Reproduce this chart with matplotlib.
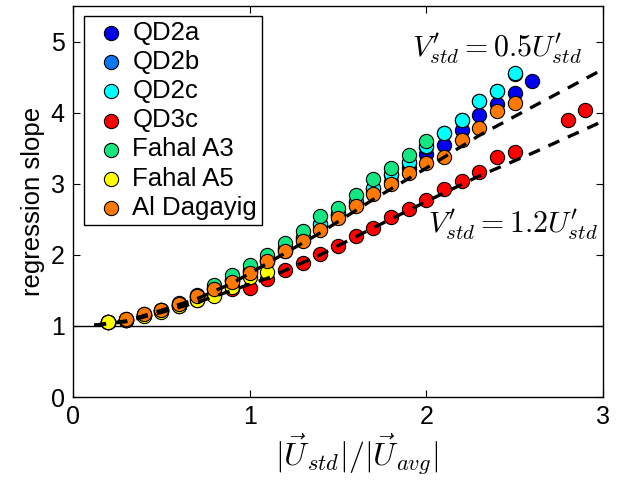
import matplotlib.pyplot as plt

plt.rcParams['font.family'] = ['Liberation Sans', 'DejaVu Sans']
plt.rcParams['mathtext.fontset'] = 'cm'

# regression slope vs |U_std|/|U_avg| for each site
x_qd2a = [0.2, 0.3, 0.4, 0.5, 0.6, 0.7, 0.8, 0.9, 1.0, 1.1, 1.2, 1.3, 1.4,
          1.5, 1.6, 1.7, 1.8, 1.9, 2.0, 2.1, 2.2, 2.3, 2.4, 2.5, 2.6]
qd2a = [1.05, 1.09, 1.16, 1.22, 1.30, 1.41, 1.52, 1.63, 1.76, 1.91, 2.06, 2.21, 2.38,
        2.54, 2.70, 2.88, 3.03, 3.22, 3.42, 3.55, 3.75, 3.96, 4.12, 4.28, 4.45]

x_qd2b = [0.2, 0.3, 0.4, 0.5, 0.6, 0.7, 0.8, 0.9, 1.0, 1.1, 1.2, 1.3, 1.4,
          1.5, 1.6, 1.7, 1.8, 1.9, 2.0, 2.1, 2.2, 2.3, 2.4, 2.5]
qd2b = [1.05, 1.09, 1.15, 1.21, 1.29, 1.41, 1.52, 1.64, 1.77, 1.92, 2.08, 2.24, 2.43,
        2.57, 2.74, 2.93, 3.12, 3.29, 3.52, 3.71, 3.89, 4.16, 4.30, 4.55]

x_qd2c = [0.2, 0.3, 0.4, 0.5, 0.6, 0.7, 0.8, 0.9, 1.0, 1.1, 1.2, 1.3, 1.4,
          1.5, 1.6, 1.7, 1.8, 1.9, 2.0, 2.1, 2.2, 2.3, 2.4, 2.5]
qd2c = [1.05, 1.09, 1.16, 1.22, 1.30, 1.42, 1.53, 1.65, 1.78, 1.93, 2.09, 2.25, 2.44,
        2.58, 2.75, 2.94, 3.13, 3.30, 3.53, 3.72, 3.90, 4.17, 4.31, 4.56]

x_qd3c = [0.2, 0.3, 0.4, 0.5, 0.6, 0.7, 0.8, 0.9, 1.0, 1.1, 1.2, 1.3, 1.4,
          1.5, 1.6, 1.7, 1.8, 1.9, 2.0, 2.1, 2.2, 2.3, 2.4, 2.5, 2.8, 2.9]
qd3c = [1.05, 1.09, 1.15, 1.21, 1.28, 1.37, 1.44, 1.52, 1.54, 1.66, 1.79, 1.89, 2.01,
        2.13, 2.27, 2.38, 2.53, 2.65, 2.77, 2.93, 3.04, 3.17, 3.37, 3.45, 3.90, 4.04]

x_fa3 = [0.2, 0.3, 0.4, 0.5, 0.6, 0.7, 0.8, 0.9, 1.0, 1.1, 1.2, 1.3, 1.4,
         1.5, 1.6, 1.7, 1.8, 1.9, 2.0]
fahal_a3 = [1.06, 1.10, 1.17, 1.23, 1.32, 1.44, 1.58, 1.72, 1.86, 2.00, 2.17, 2.33, 2.54,
            2.66, 2.84, 3.06, 3.22, 3.40, 3.60]

x_fa5 = [0.2, 0.3, 0.4, 0.5, 0.6, 0.7, 0.8, 0.9, 1.0, 1.1]
fahal_a5 = [1.06, 1.08, 1.14, 1.19, 1.28, 1.37, 1.42, 1.55, 1.69, 1.76]

x_ald = [0.3, 0.4, 0.5, 0.6, 0.7, 0.8, 0.9, 1.0, 1.1, 1.2, 1.3, 1.4,
         1.5, 1.6, 1.7, 1.8, 1.9, 2.0, 2.1, 2.2, 2.3, 2.4, 2.5]
al_dagayig = [1.10, 1.17, 1.23, 1.31, 1.42, 1.52, 1.62, 1.75, 1.91, 2.05, 2.19, 2.35,
              2.52, 2.68, 2.85, 2.99, 3.15, 3.29, 3.38, 3.61, 3.78, 4.02, 4.14]

# model curves (dashed)
x_model = [0.12, 0.3, 0.5, 0.7, 0.9, 1.1, 1.4, 1.7, 2.0, 2.3, 2.6, 3.0]
model_05 = [1.01, 1.07, 1.22, 1.38, 1.60, 1.88, 2.31, 2.78, 3.22, 3.68, 4.08, 4.61]
model_12 = [1.01, 1.06, 1.19, 1.33, 1.50, 1.67, 2.00, 2.38, 2.75, 3.11, 3.43, 3.88]

series = [
    ("QD2a", x_qd2a, qd2a, "#0000f0"),
    ("QD2b", x_qd2b, qd2b, "#0a78f0"),
    ("QD2c", x_qd2c, qd2c, "#00ffff"),
    ("QD3c", x_qd3c, qd3c, "#ff0000"),
    ("Fahal A3", x_fa3, fahal_a3, "#14e682"),
    ("Fahal A5", x_fa5, fahal_a5, "#ffff00"),
    ("Al Dagayig", x_ald, al_dagayig, "#ff7800"),
]

fig = plt.figure(figsize=(6.23, 4.8), dpi=100)
ax = fig.add_axes([0.1172, 0.1729, 0.8507, 0.8146])

ax.axhline(1, color='black', lw=1.0, zorder=1)
for name, xs, ys, col in series:
    ax.scatter(xs, ys, s=105, c=col, edgecolors='black', linewidths=0.8,
               label=name, zorder=3)

for ym in (model_05, model_12):
    ln, = ax.plot(x_model, ym, color='black', lw=2.4, zorder=4)
    ln.set_dashes((3.6, 2.8))

ax.text(2.88, 4.79, r"$V^{\prime}_{std} = 0.5U^{\prime}_{std}$", fontsize=21.5,
        ha='right', va='baseline')
ax.text(2.97, 2.31, r"$V^{\prime}_{std} = 1.2U^{\prime}_{std}$", fontsize=21.5,
        ha='right', va='baseline')

ax.set_xlim(0, 3)
ax.set_ylim(0, 5.5)
ax.set_xticks([0, 1, 2, 3])
ax.set_yticks([0, 1, 2, 3, 4, 5])
ax.tick_params(direction='in', length=5, width=0.8, top=True, right=True,
               labelsize=18, pad=6)
for sp in ax.spines.values():
    sp.set_linewidth(1.0)

ax.set_xlabel(r"$|\vec{U}_{std}|/|\vec{U}_{avg}|$", fontsize=23)
ax.xaxis.set_label_coords(0.535, -0.088)
ax.set_ylabel("regression slope", fontsize=18.5, labelpad=4)

leg = ax.legend(loc='upper left', bbox_to_anchor=(0.02, 0.975), borderaxespad=0,
                fontsize=18.5, fancybox=False, edgecolor='black', framealpha=1,
                handletextpad=0.0, labelspacing=0.2, borderpad=0.2,
                handlelength=1.7)
leg.get_frame().set_linewidth(1.0)

fig.savefig("out.png", dpi=100)
